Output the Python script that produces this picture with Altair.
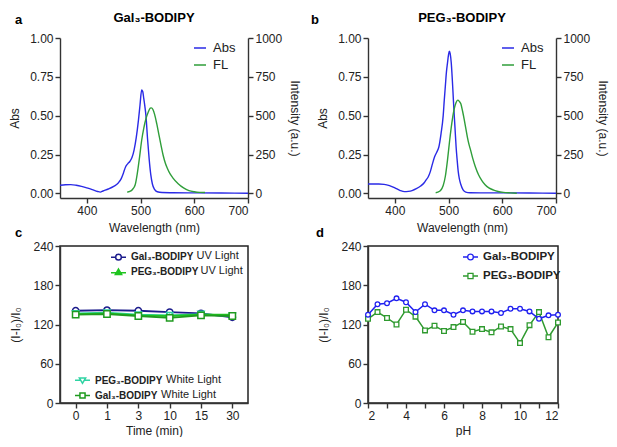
import altair as alt
import pandas as pd

FONT = "Liberation Sans"

# ---------------- panel a : Gal3-BODIPY spectra ----------------
gal_abs_wl = [350, 360, 370, 380, 390, 400, 410, 420, 425, 430, 440, 450, 458, 464, 468, 472, 476, 480,
              484, 488, 492, 496, 499, 502, 504, 506, 508, 510, 513, 516, 519, 522, 526, 531, 540, 560,
              600, 650, 700]
gal_abs = [0.052, 0.055, 0.056, 0.052, 0.045, 0.035, 0.024, 0.012, 0.008, 0.015, 0.028, 0.045, 0.065,
           0.095, 0.13, 0.17, 0.19, 0.205, 0.23, 0.28, 0.36, 0.47, 0.57, 0.665, 0.655, 0.61, 0.56, 0.5,
           0.35, 0.22, 0.12, 0.06, 0.025, 0.01, 0.005, 0.004, 0.003, 0.002, 0.001]
gal_fl_wl = [475, 480, 485, 490, 494, 498, 502, 506, 510, 514, 518, 520, 523, 526, 530, 534, 538, 542,
             546, 550, 555, 560, 570, 580, 590, 600, 610, 620]
gal_fl = [8, 12, 25, 55, 130, 230, 340, 420, 480, 520, 548, 550, 540, 510, 450, 380, 310, 245, 195,
          160, 125, 100, 62, 35, 18, 10, 6, 5]

# ---------------- panel b : PEG3-BODIPY spectra ----------------
peg_abs_wl = [350, 360, 370, 380, 390, 400, 410, 418, 425, 432, 440, 448, 455, 458, 462, 466, 470, 474,
              478, 482, 486, 490, 492, 494, 496, 498, 500, 501.5, 503, 505, 507, 509, 510, 512, 514, 516,
              518, 520, 523, 527, 532, 540, 560, 600, 650, 700]
peg_abs = [0.06, 0.06, 0.06, 0.058, 0.05, 0.035, 0.018, 0.011, 0.013, 0.018, 0.03, 0.047, 0.07, 0.085,
           0.105, 0.14, 0.19, 0.235, 0.265, 0.3, 0.385, 0.5, 0.6, 0.69, 0.78, 0.84, 0.895, 0.915, 0.9,
           0.84, 0.73, 0.6, 0.535, 0.42, 0.3, 0.214, 0.14, 0.095, 0.055, 0.022, 0.008, 0.004, 0.003,
           0.003, 0.002, 0.001]
peg_fl_wl = [476, 480, 485, 490, 494, 498, 502, 506, 510, 514, 517, 520, 523, 526, 529, 532, 535, 538,
             541, 545, 550, 556, 562, 568, 575, 584, 592, 602, 615, 627]
peg_fl = [4, 8, 18, 50, 110, 214, 340, 450, 535, 585, 600, 592, 575, 530, 478, 420, 362, 315, 278, 225,
          170, 118, 82, 55, 35, 21, 12, 6, 3, 1]

# ---------------- panel c : photostability ----------------
times = ["0", "1", "3", "10", "15", "30"]
gal_uv = [141, 142, 141, 139, 137, 131]
peg_uv = [136, 137, 134, 133, 135, 135]
peg_white = [137, 138, 135, 134, 136, 133]
gal_white = [135, 136, 133, 130, 134, 133]

# ---------------- panel d : pH stability ----------------
ph = [2, 2.5, 3, 3.5, 4, 4.5, 5, 5.5, 6, 6.5, 7, 7.5, 8, 8.5, 9, 9.5, 10, 10.5, 11, 11.5, 12]
gal_ph = [135, 151, 152.5, 160, 154, 139, 151, 141.6, 141.6, 135, 141.6, 140, 140, 140, 137.6, 144,
          144, 140, 128.7, 134, 135]
peg_ph = [128.7, 139, 130, 120, 142.6, 132, 111, 118, 110, 116, 124, 109, 113, 108, 117, 113, 91.6,
          119, 139, 100.5, 123]

BLUE = "#2a2ae6"
GREEN = "#2f9e3a"

CIRCLE_P = "M-1,0H-0.38M0.38,0H1M-0.38,0A0.38,0.38,0,1,0,0.38,0A0.38,0.38,0,1,0,-0.38,0Z"
TRI_UP_P = "M-1,0.08H1M0,-0.42L0.42,0.3H-0.42Z"
TRI_DN_P = "M-1,-0.05H-0.3M0.3,-0.05H1M-0.42,-0.35H0.42L0,0.38Z"
SQUARE_P = "M-1,0H-0.34M0.34,0H1M-0.34,-0.34H0.34V0.34H-0.34Z"

W_TOP = 188
H = 160
HB = 157


def letter_layer(letter, dx, dy):
    return alt.Chart(pd.DataFrame({"t": [letter]})).mark_text(
        font=FONT, fontSize=13, fontWeight="bold", align="left", baseline="middle", color="black"
    ).encode(x=alt.value(dx), y=alt.value(dy), text="t:N")


def spectra(wl_a, va, wl_f, vf, title, letter, ldx):
    abs_df = pd.DataFrame({"wl": wl_a, "val": va, "series": "Abs"})
    fl_df = pd.DataFrame({"wl": wl_f, "val": vf, "series": "FL"})
    color = alt.Color("series:N", scale=alt.Scale(domain=["Abs", "FL"], range=[BLUE, GREEN]),
                      legend=alt.Legend(title=None, orient="none", legendX=133, legendY=3,
                                        symbolType="stroke", symbolSize=144, symbolStrokeWidth=1.5,
                                        labelFontSize=13, labelOffset=6, rowPadding=3,
                                        labelFont=FONT, labelColor="#222"))
    x = alt.X("wl:Q", scale=alt.Scale(domain=[350, 700], nice=False, zero=False),
              axis=alt.Axis(values=[400, 500, 600, 700], title="Wavelength (nm)", titlePadding=6))
    a = alt.Chart(abs_df).mark_line(strokeWidth=1.4, interpolate="monotone").encode(
        x=x,
        y=alt.Y("val:Q", scale=alt.Scale(domain=[-0.03, 1.0], nice=False, zero=False),
                axis=alt.Axis(values=[0, 0.25, 0.5, 0.75, 1.0], format=".2f", title="Abs",
                              orient="left", titlePadding=8)),
        color=color)
    f = alt.Chart(fl_df).mark_line(strokeWidth=1.4, interpolate="monotone").encode(
        x=x,
        y=alt.Y("val:Q", scale=alt.Scale(domain=[-30, 1000], nice=False, zero=False),
                axis=alt.Axis(values=[0, 250, 500, 750, 1000], format="d", title="Intensity (a.u.)",
                              orient="right", titlePadding=6)),
        color=color)
    return alt.layer(a, f, letter_layer(letter, ldx, -18)).resolve_scale(y="independent").properties(
        width=W_TOP, height=H,
        title=alt.TitleParams(text=title, font=FONT, fontSize=13, fontWeight="bold",
                              anchor="middle", offset=0, dy=11, frame="group", color="black"))


panel_a = spectra(gal_abs_wl, gal_abs, gal_fl_wl, gal_fl, "Gal₃-BODIPY", "a", -45)
panel_b = spectra(peg_abs_wl, peg_abs, peg_fl_wl, peg_fl, "PEG₃-BODIPY", "b", -57)


def series_c(vals, name, key, color, shape, path, filled, lx, ly):
    df = pd.DataFrame({"t": times, "v": vals, key: name})
    return alt.Chart(df).mark_line(
        strokeWidth=1.8,
        point=alt.OverlayMarkDef(shape=shape, filled=filled, fill=color if filled else "white",
                                 size=40, strokeWidth=1.5)
    ).encode(
        x=alt.X("t:O", sort=times, scale=alt.Scale(domain=times),
                axis=alt.Axis(labelAngle=0, title="Time (min)", titlePadding=4)),
        y=alt.Y("v:Q", scale=alt.Scale(domain=[0, 240], nice=False),
                axis=alt.Axis(values=[0, 60, 120, 180, 240], title="(I-I₀)/I₀", titlePadding=10)),
        color=alt.Color(f"{key}:N", scale=alt.Scale(domain=[name], range=[color]),
                        legend=alt.Legend(title=None, orient="none", legendX=lx, legendY=ly,
                                          symbolType=path, symbolSize=225, symbolStrokeWidth=1.5,
                                          symbolFillColor=color if filled else "white",
                                          labelFontSize=10, labelFontWeight="bold", labelOffset=4,
                                          labelFont=FONT, labelColor="#222")))


def suffix(txt, x, y, size=11):
    return alt.Chart(pd.DataFrame({"t": [txt]})).mark_text(
        font=FONT, fontSize=size, align="left", baseline="middle", color="#222"
    ).encode(x=alt.value(x), y=alt.value(y), text="t:N")


c_layers = [
    series_c(gal_uv, "Gal₃-BODIPY", "s1", "#1c1c8c", "circle", CIRCLE_P, False, 50, 2.7),
    series_c(peg_white, "PEG₃-BODIPY", "s3", "#2fd3a3", "triangle-down", TRI_DN_P, False, 14, HB - 31),
    series_c(peg_uv, "PEG₃-BODIPY", "s2", "#1fc41f", "triangle-up", TRI_UP_P, True, 50, 17.7),
    series_c(gal_white, "Gal₃-BODIPY", "s4", "#1f9a1f", "square", SQUARE_P, False, 14, HB - 16),
]
suffix_layers = [
    suffix("UV Light", 136.5, 10.2),
    suffix("UV Light", 140.5, 25.2),
    suffix("White Light", 106, HB - 23.5),
    suffix("White Light", 101, HB - 8.5),
]

panel_c = alt.layer(*c_layers, *suffix_layers, letter_layer("c", -45, -13)).resolve_scale(
    color="independent").properties(width=W_TOP, height=HB,
                                    view=alt.ViewBackground(stroke="#222", strokeWidth=1.5))


def series_d(vals, name, key, color, shape, path, ly):
    df = pd.DataFrame({"ph": ph, "v": vals, key: name})
    return alt.Chart(df).mark_line(
        strokeWidth=1.5,
        point=alt.OverlayMarkDef(shape=shape, filled=False, fill="white", size=22, strokeWidth=1.3)
    ).encode(
        x=alt.X("ph:Q", scale=alt.Scale(domain=[2, 12], nice=False, zero=False),
                axis=alt.Axis(values=list(range(2, 13)), title="pH", titlePadding=4)),
        y=alt.Y("v:Q", scale=alt.Scale(domain=[0, 240], nice=False),
                axis=alt.Axis(values=[0, 60, 120, 180, 240], title="(I-I₀)/I₀", titlePadding=10)),
        color=alt.Color(f"{key}:N", scale=alt.Scale(domain=[name], range=[color]),
                        legend=alt.Legend(title=None, orient="none", legendX=94, legendY=ly,
                                          symbolType=path, symbolSize=225, symbolStrokeWidth=1.3,
                                          symbolFillColor="white",
                                          labelFontSize=11.5, labelFontWeight="bold", labelOffset=4,
                                          labelFont=FONT, labelColor="#222")))


panel_d = alt.layer(
    series_d(peg_ph, "PEG₃-BODIPY", "d2", "#2f9a2f", "square", SQUARE_P, 21.5),
    series_d(gal_ph, "Gal₃-BODIPY", "d1", "#2020f0", "circle", CIRCLE_P, 2.5),
    letter_layer("d", -52, -13),
).resolve_scale(color="independent").properties(
    width=W_TOP + 2, height=HB, view=alt.ViewBackground(stroke="#222", strokeWidth=1.5))

chart = alt.concat(panel_a, panel_b, panel_c, panel_d, columns=2,
                   spacing=alt.RowColnumber(row=48, column=120), bounds="flush").resolve_scale(
    color="independent").properties(padding={"left": 0, "top": 4, "right": 0, "bottom": 0}
).configure_view(strokeWidth=0).configure_axis(
    labelFont=FONT, titleFont=FONT, labelFontSize=12, titleFontSize=12, titleFontWeight="normal",
    labelColor="#222", titleColor="#222", domainColor="#333", tickColor="#333",
    domainWidth=1.4, tickWidth=1.4, tickSize=5, labelPadding=2, grid=False
)

chart.save("out.html", embed_options={"renderer": "svg", "actions": False})
